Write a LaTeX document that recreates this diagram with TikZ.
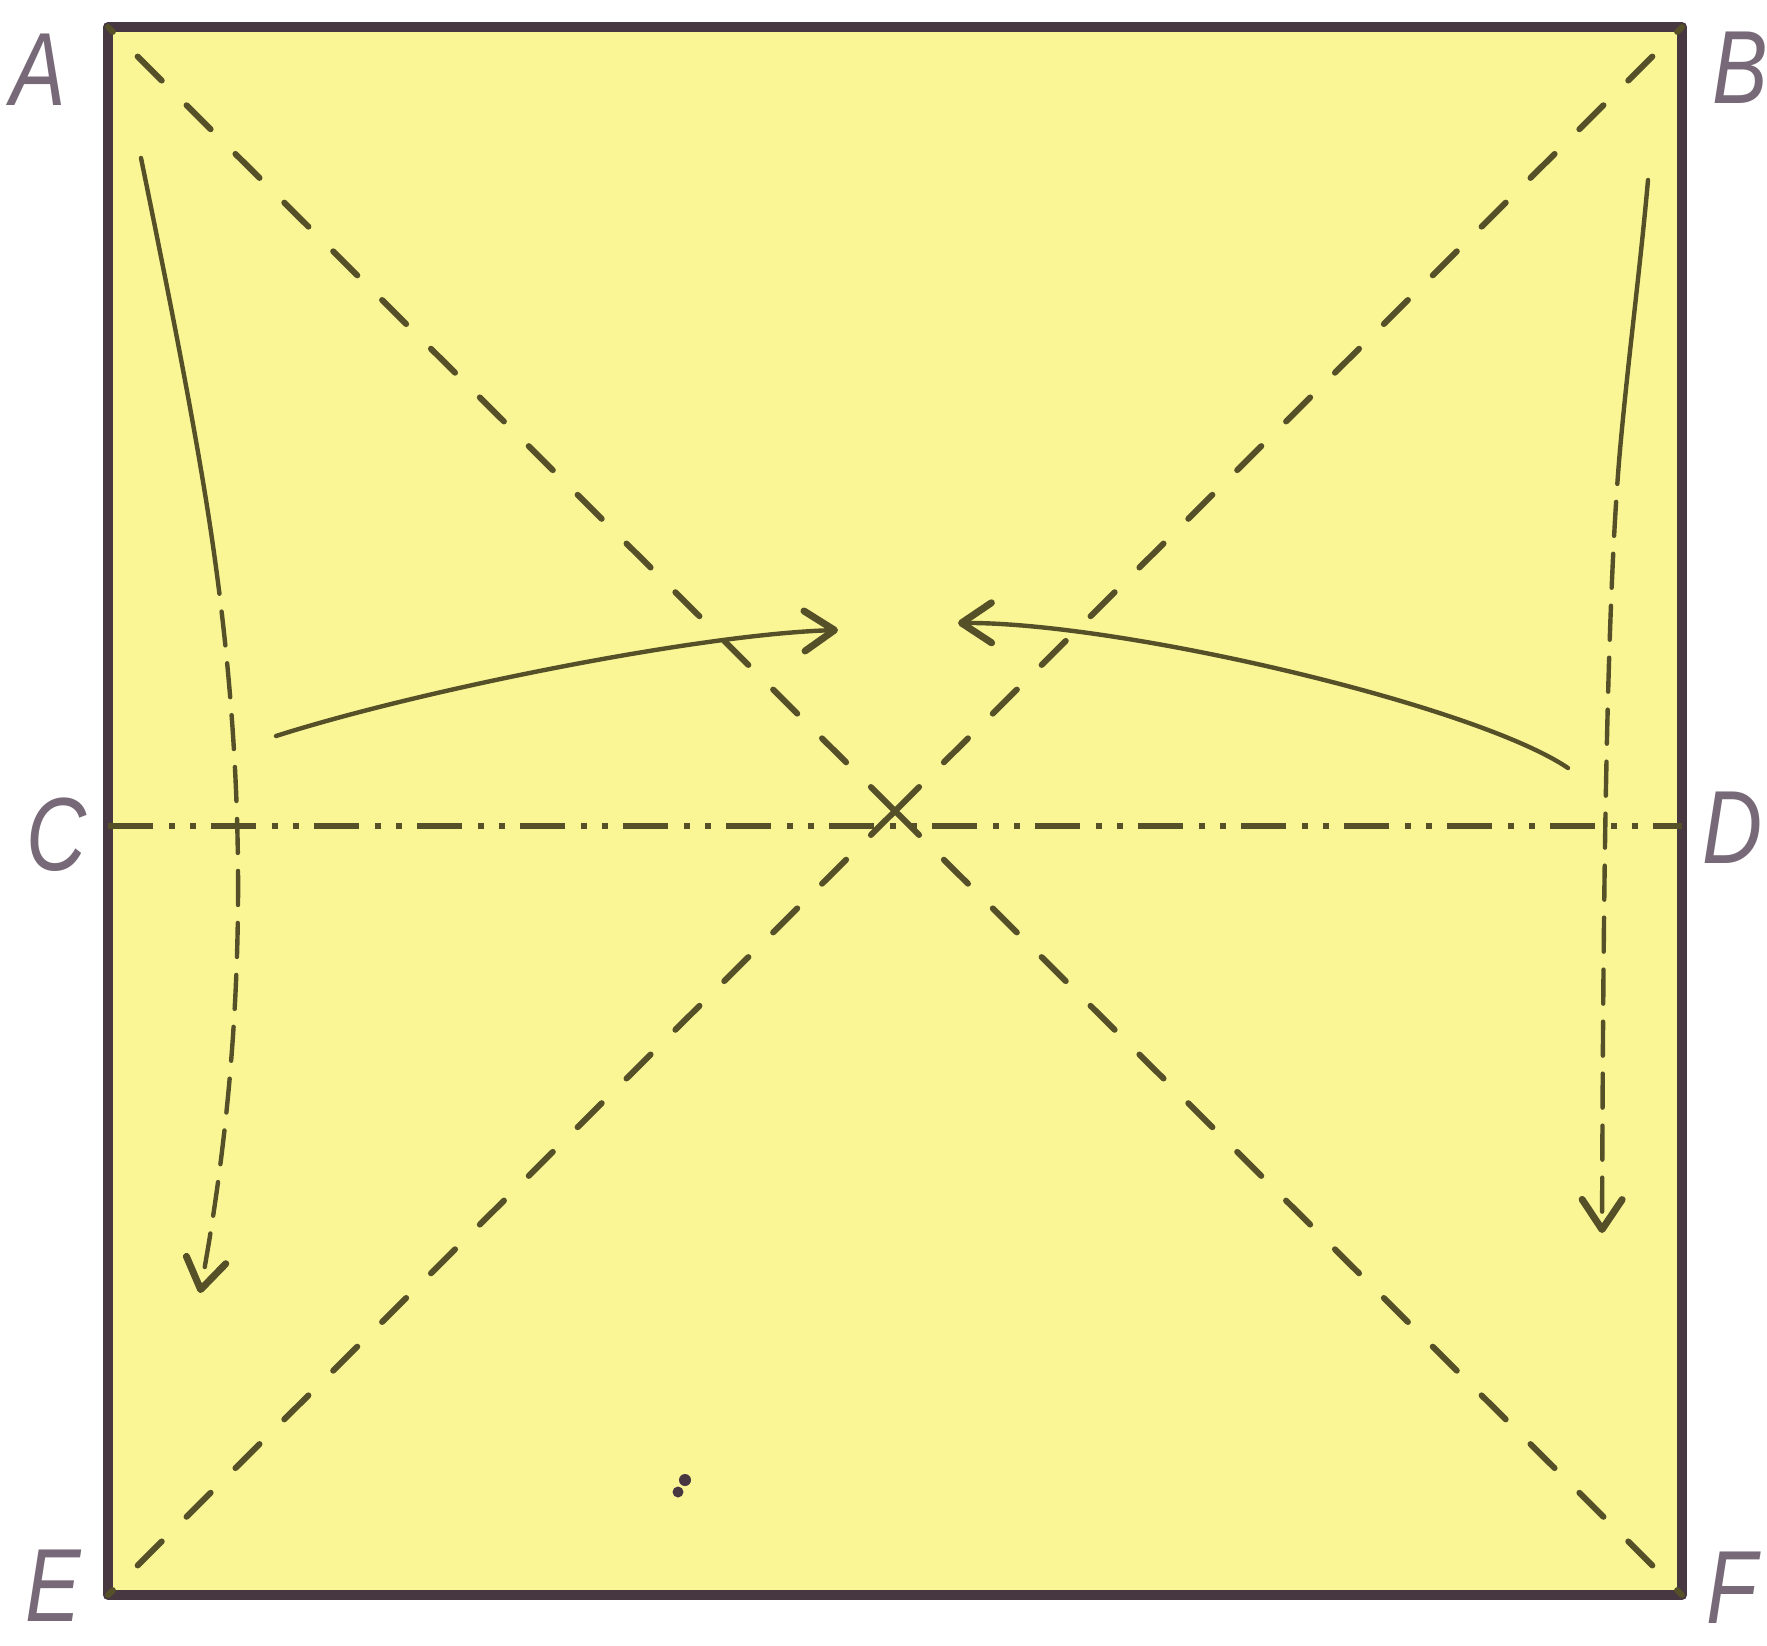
\documentclass[tikz,border=0pt]{standalone}
\usepackage{fontspec}
\newfontfamily\lblfont{Liberation Sans}[FakeStretch=0.8]
\usetikzlibrary{arrows.meta}
\definecolor{paper}{RGB}{250,246,150}
\definecolor{ink}{RGB}{70,55,65}
\definecolor{olive}{RGB}{85,80,40}
\definecolor{lblcol}{RGB}{120,105,120}
\begin{document}
\begin{tikzpicture}[x=0.5pt,y=-0.5pt,
 edge/.style={draw=ink,fill=paper,line width=5pt,line join=round},
 diag/.style={draw=olive,line width=3pt,line cap=round,dash pattern=on 17pt off 17.5pt},
 axisline/.style={draw=olive,line width=2.6pt,dash pattern=on 22.5pt off 8pt on 3pt off 7.5pt on 3pt off 7.5pt},
 foldsolid/.style={draw=olive,line width=2.2pt,line cap=round},
 folddash/.style={foldsolid,dash pattern=on 17pt off 9pt},
 tip/.style={-{Straight Barb[length=15pt,width=20pt,line width=3.5pt,round]}},
 lbl/.style={font=\lblfont\itshape\fontsize{52}{52}\selectfont,text=lblcol,inner sep=0pt}]
\useasboundingbox (0,0) rectangle (1767,1645);
% corners and midpoints
\coordinate (A) at (108,27);
\coordinate (B) at (1682,27);
\coordinate (E) at (108,1595);
\coordinate (F) at (1682,1595);
\coordinate (C) at (108,826);
\coordinate (D) at (1682,826);
\coordinate (O) at (895,811);
% paper
\draw[edge] (A) -- (B) -- (F) -- (E) -- cycle;
% diagonals
\draw[diag] (O) -- (A);
\draw[diag] (O) -- (B);
\draw[diag] (O) -- (E);
\draw[diag] (O) -- (F);
% horizontal fold line
\draw[axisline] (C) -- (D);
% left vertical arrow
\coordinate (L1) at (141,158);
\coordinate (L2) at (215,560);
\coordinate (L3) at (200,1293);
\draw[foldsolid] (L1) .. controls (170,300) and (200,450) .. (L2);
\draw[folddash,tip] (L2) .. controls (250,813) and (245,1050) .. (L3);
% right vertical arrow
\coordinate (R1) at (1648,180);
\coordinate (R2) at (1620,450);
\coordinate (R3) at (1602,1233);
\draw[foldsolid] (R1) .. controls (1640,270) and (1628,360) .. (R2);
\draw[folddash,tip] (R2) .. controls (1604,630) and (1603,1000) .. (R3);
% horizontal arrows
\coordinate (HL1) at (276,736);
\coordinate (HL2) at (838,630);
\draw[foldsolid,tip] (HL1) .. controls (420,690) and (700,634) .. (HL2);
\coordinate (HR1) at (1568,768);
\coordinate (HR2) at (958,623);
\draw[foldsolid,tip] (HR1) .. controls (1475,705) and (1120,622) .. (HR2);
% speck
\fill[ink] (685,1480) circle[radius=6];
\fill[ink] (678,1492) circle[radius=5.5];
% labels
\node[lbl] (labA) at (38,70) {A};
\node[lbl] (labB) at (1740,68) {B};
\node[lbl] (labC) at (57,835) {C};
\node[lbl] (labD) at (1733,828) {D};
\node[lbl] (labE) at (53,1586) {E};
\node[lbl] (labF) at (1732,1588) {F};
\end{tikzpicture}
\end{document}
